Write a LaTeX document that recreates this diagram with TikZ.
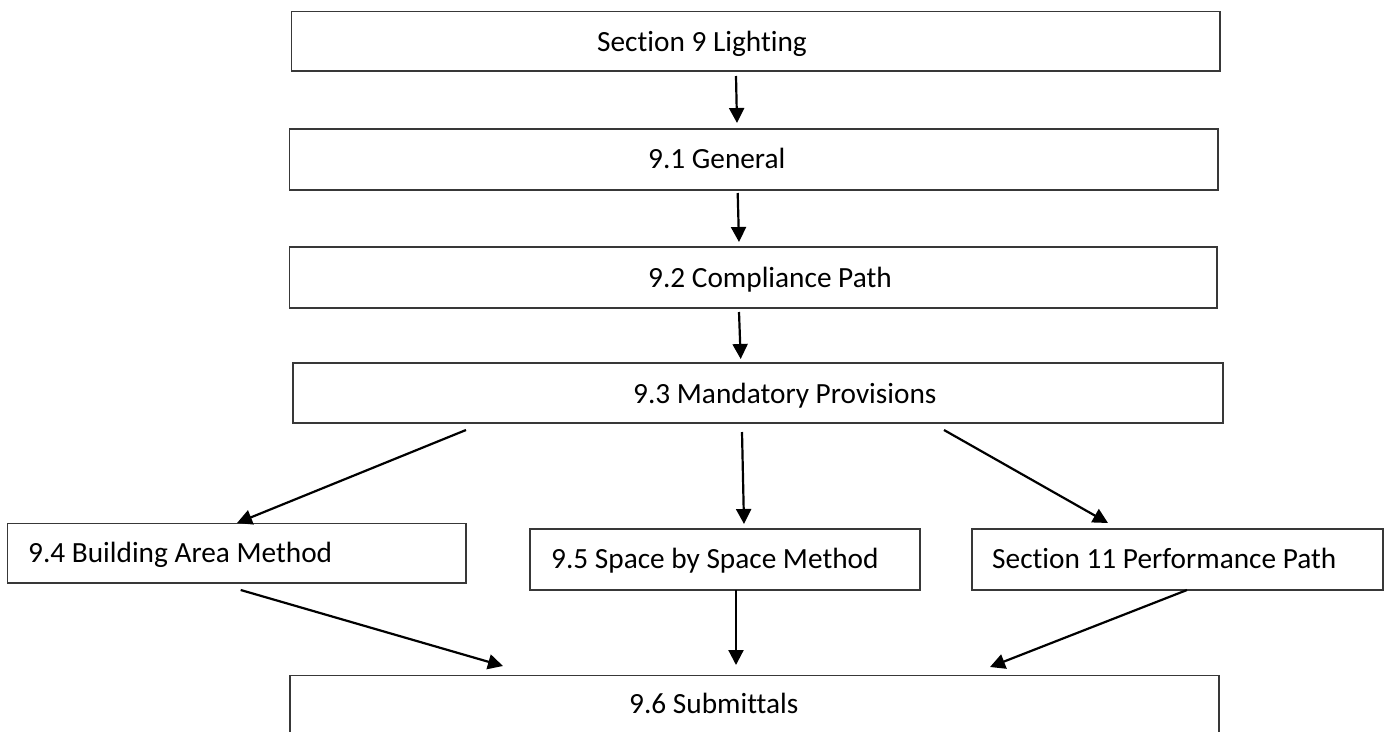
\documentclass[tikz,border=0pt]{standalone}
\usepackage{fontspec}
\setmainfont{Carlito}[Ligatures=NoCommon]
\usetikzlibrary{arrows.meta,calc}
\begin{document}
\begin{tikzpicture}[x=1pt,y=-1pt,
  box/.style={draw=black!78,line width=1.3pt,rectangle,anchor=north west,inner sep=0pt,outer sep=0pt},
  lbl/.style={anchor=base west,inner sep=0pt,font=\fontsize{29.3}{35}\selectfont,text=black},
  arr/.style={draw=black,line width=2.2pt,-{Triangle[length=15pt,width=15pt]}}]
\useasboundingbox (0,0) rectangle (1384,731);
\clip (0,0) rectangle (1384,731);
% boxes
\node[box,minimum width=928.3pt,minimum height=59.3pt] (n0) at (291.7,11.7) {};
\node[box,minimum width=928.3pt,minimum height=61pt] (n1) at (289.7,129) {};
\node[box,minimum width=927.5pt,minimum height=61pt] (n2) at (289.5,247) {};
\node[box,minimum width=930pt,minimum height=60pt] (n3) at (293,363) {};
\node[box,minimum width=458.3pt,minimum height=59.3pt] (n4) at (7.7,523.7) {};
\node[box,minimum width=390pt,minimum height=61pt] (n5) at (530,529) {};
\node[box,minimum width=411pt,minimum height=61pt] (n6) at (972,529) {};
\node[box,minimum width=929pt,minimum height=90pt] (n7) at (290,675.7) {};
% labels
\node[lbl] (t0) at (597,51) {Section 9 Lighting};
\node[lbl] (t1) at (648,168) {9.1 General};
\node[lbl] (t2) at (648,287) {9.2 Compliance Path};
\node[lbl] (t3) at (633,403) {9.3 Mandatory Provisions};
\node[lbl] (t4) at (28,562) {9.4 Building Area Method};
\node[lbl] (t5) at (551,568) {9.5 Space by Space Method};
\node[lbl] (t6) at (992,568) {Section 11 Performance Path};
\node[lbl] (t7) at (629,713) {9.6 Submittals};
% connectors
\draw[arr] ($(n0.south west)+(444.3,5)$) -- ($(n1.north west)+(447.3,-6)$);
\draw[arr] ($(n1.south west)+(448,3)$) -- ($(n2.north west)+(449.5,-5)$);
\draw[arr] ($(n2.south west)+(449.5,4)$) -- ($(n3.north west)+(447.7,-4)$);
\draw[arr] ($(n3.south west)+(173,7)$) -- ($(n4.north west)+(229.3,-0.7)$);
\draw[arr] ($(n3.south west)+(449,9)$) -- ($(n5.north west)+(214,-5)$);
\draw[arr] ($(n3.south west)+(651,7)$) -- ($(n6.north west)+(136,-6)$);
\draw[arr] ($(n4.south west)+(233,7)$) -- ($(n7.north west)+(213,-9.7)$);
\draw[arr] ($(n5.south west)+(206,0)$) -- ($(n7.north west)+(446,-10.7)$);
\draw[arr] ($(n6.south west)+(215,0)$) -- ($(n7.north west)+(700,-8.7)$);
\end{tikzpicture}
\end{document}
